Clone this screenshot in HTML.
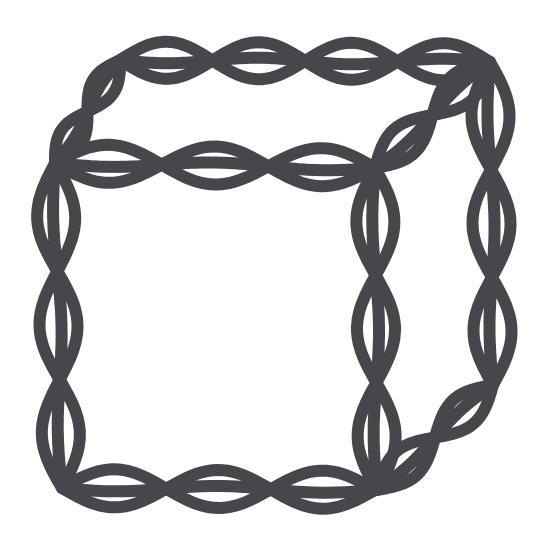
<!DOCTYPE html>
<html><head><meta charset="utf-8"><style>html,body{margin:0;padding:0;background:#fff}svg{display:block}</style></head>
<body>
<svg id="c" width="550" height="550" viewBox="0 0 550 550"></svg>
<script>
const edgeNames = ['front-top','front-left','front-bottom','front-right','back-top','top-left-diagonal','top-right-diagonal','back-right','bottom-right-diagonal'];
const edgeStarts = [[55,163],[55,163],[62,488],[375,168],[120,60],[55,163],[375,168],[490,62],[493,385]];
const edgeEnds = [[375,168],[62,488],[375,490],[377,490],[490,62],[120,60],[490,62],[493,385],[377,490]];
const svg = document.getElementById('c');
const NS = 'http://www.w3.org/2000/svg';
function strand(a,b,phase,amp,period){
  const dx=b[0]-a[0], dy=b[1]-a[1], L=Math.hypot(dx,dy);
  const nx=-dy/L, ny=dx/L;
  const n=Math.max(20,Math.round(L/4));
  let d='';
  for(let i=0;i<=n;i++){
    const t=i/n, s=t*L;
    const o=amp*Math.sin(2*Math.PI*s/period+phase);
    const x=a[0]+dx*t+nx*o, y=a[1]+dy*t+ny*o;
    d+=(i?'L':'M')+x.toFixed(1)+','+y.toFixed(1);
  }
  return d;
}
edgeNames.forEach((nm,i)=>{
  const a=edgeStarts[i], b=edgeEnds[i];
  const L=Math.hypot(b[0]-a[0],b[1]-a[1]);
  const k=Math.max(2,Math.round(L/105));
  const period=2*L/k;
  const amp=Math.min(19,L/k*0.2);
  [[0,amp],[Math.PI,amp],[0,3]].forEach((p,j)=>{
    const path=document.createElementNS(NS,'path');
    path.setAttribute('d',strand(a,b,p[0],p[1],period));
    path.setAttribute('fill','none');
    path.setAttribute('stroke','#47464a');
    path.setAttribute('stroke-width','12');
    path.setAttribute('stroke-linecap','round');
    path.setAttribute('stroke-linejoin','round');
    
    
    svg.appendChild(path);
  });
});
</script>
</body></html>
